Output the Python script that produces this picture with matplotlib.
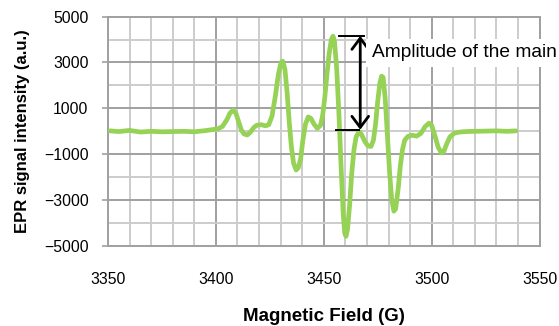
import numpy as np
import matplotlib
matplotlib.use('Agg')
import matplotlib.pyplot as plt
from matplotlib.ticker import MultipleLocator

plt.rcParams['font.family'] = ['Liberation Sans', 'DejaVu Sans']

# magnetic field (G) and EPR signal (a.u.)
field = [3351, 3355, 3360, 3365, 3370, 3375, 3380, 3385, 3390, 3395, 3398,
         3401, 3403, 3405, 3406.5, 3408, 3409.3, 3410.5, 3411.8, 3413, 3414.5,
         3416, 3417.5, 3419, 3421, 3423, 3424.5, 3426, 3427.5, 3429, 3430.2,
         3431, 3432, 3433, 3434, 3435, 3436, 3437.2, 3438.2, 3439.3, 3440.3,
         3441.5, 3442.8, 3444, 3445.5, 3447, 3448.5, 3449.5, 3450.5, 3451.5,
         3452.5, 3453.5, 3454.3, 3455, 3456, 3457, 3458, 3459, 3459.7, 3460.3,
         3461, 3462, 3463, 3464, 3465, 3466.4, 3467.5, 3469, 3470.5, 3471.9,
         3473, 3474, 3475, 3476, 3476.8, 3477.5, 3478.5, 3479.5, 3480.5,
         3481.5, 3482.5, 3483.3, 3484.5, 3485.5, 3486.5, 3487.5, 3489, 3491,
         3493, 3495, 3497, 3498.8, 3500, 3501.5, 3503, 3504.5, 3505.5, 3507,
         3508.5, 3510.5, 3513, 3516, 3520, 3525, 3530, 3535, 3539]
signal = [10, -20, 30, -40, -10, -30, -20, -10, -30, 20, 60,
          100, 200, 480, 780, 920, 780, 420, 50, -120, -170,
          -50, 150, 260, 280, 230, 280, 650, 1500, 2500, 3000,
          3050, 2700, 1700, 400, -700, -1400, -1700, -1600, -1200, -400,
          300, 620, 560, 300, 120, 250, 700, 1500, 2500,
          3400, 4000, 4150, 3900, 2700, 800, -1500, -3600, -4450, -4600,
          -4300, -3200, -1800, -800, -250, -20, -150, -450, -650, -670,
          -400, 300, 1300, 2100, 2400, 2350, 1400, -200, -1800,
          -3000, -3500, -3400, -2500, -1500, -800, -400, -230, -180,
          -220, -100, 200, 350, 250, -200, -700, -950, -920, -550,
          -250, -90, -40, -20, -10, 0, 10, -10, 10]

x_ticks = [3350, 3400, 3450, 3500, 3550]
y_ticks = [-5000, -3000, -1000, 1000, 3000, 5000]

# amplitude marker of the main line
amp_x = 3466.9
amp_top = 4160
amp_bottom = 60

fig = plt.figure(figsize=(5.59, 3.26), dpi=100)
ax = fig.add_axes([0.1932, 0.2469, 0.772, 0.7019])

ax.plot(field, signal, color='#95D256', lw=3.4, solid_joinstyle='round',
        solid_capstyle='round', zorder=3)

ax.set_xlim(3350, 3550)
ax.set_ylim(-5000, 5000)
ax.set_xticks(x_ticks)
ax.set_yticks(y_ticks)
ax.xaxis.set_minor_locator(MultipleLocator(10))
ax.yaxis.set_minor_locator(MultipleLocator(1000))
ax.grid(which='minor', color='#cccccc', lw=1.4, zorder=0)
ax.grid(which='major', color='#a0a0a0', lw=1.4, zorder=1)
ax.set_axisbelow(True)
for s in ax.spines.values():
    s.set_color('#a0a0a0')
    s.set_linewidth(1.4)

ax.tick_params(axis='x', which='both', length=0, pad=19, labelsize=11.3)
ax.tick_params(axis='y', which='major', length=4, width=1.2, color='#a0a0a0',
               pad=10, labelsize=11.3)
ax.tick_params(axis='y', which='minor', length=0)

ax.set_xlabel('Magnetic Field (G)', fontsize=13.5, fontweight='bold', labelpad=15)
ax.set_ylabel('EPR signal intensity (a.u.)', fontsize=12, fontweight='bold',
              labelpad=10)

ax.plot([3457, 3468.6], [amp_top, amp_top], color='black', lw=1.4, zorder=4)
ax.plot([3455.6, 3466.3], [amp_bottom, amp_bottom], color='black', lw=1.4, zorder=4)
ax.annotate('', xy=(amp_x, amp_top), xytext=(amp_x, amp_bottom),
            arrowprops=dict(arrowstyle='<->, head_length=0.4, head_width=0.3',
                            mutation_scale=20, lw=2, color='black',
                            shrinkA=0, shrinkB=0), zorder=5)

ax.text(3472.3, 3420, 'Amplitude of the main', fontsize=13.8, va='center',
        ha='left', zorder=6,
        bbox=dict(facecolor='white', edgecolor='none', pad=4))

fig.savefig('out.png', dpi=100)
